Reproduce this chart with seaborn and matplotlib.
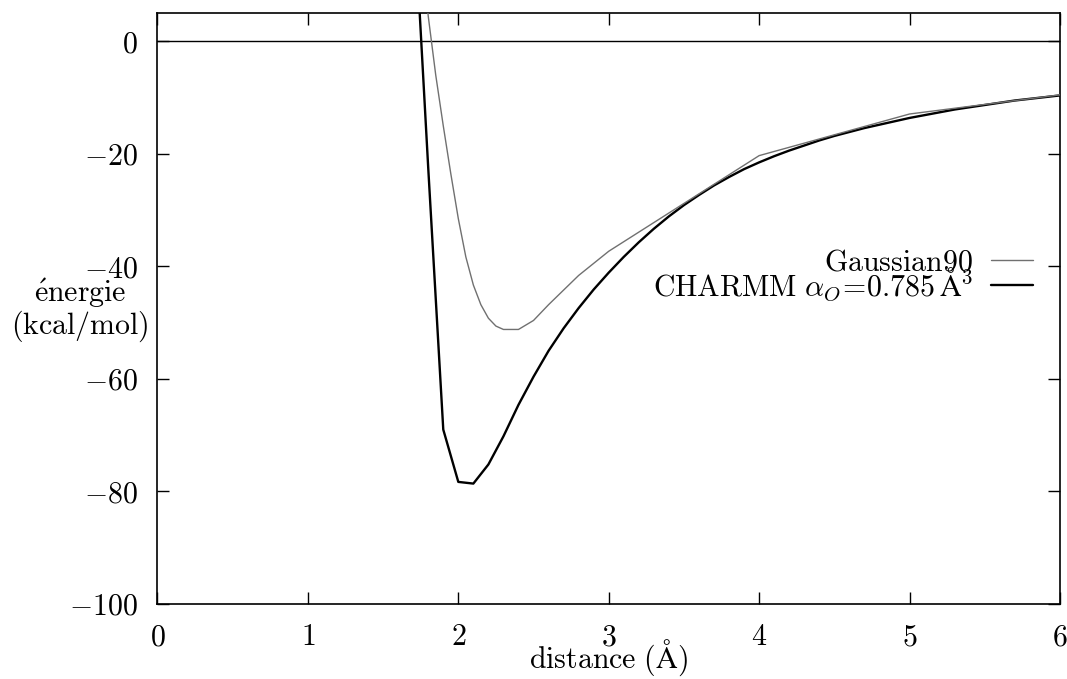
import matplotlib
matplotlib.use("Agg")
import matplotlib.pyplot as plt
import pandas as pd
import seaborn as sns

# Interaction energy curves (kcal/mol) versus distance (Angstrom)
distance_charmm = [1.7, 1.8, 1.9, 2.0, 2.1, 2.2, 2.3, 2.4, 2.5, 2.6, 2.7, 2.8, 2.9,
                   3.0, 3.1, 3.2, 3.3, 3.4, 3.5, 3.6, 3.7, 3.8, 3.9,
                   4.0, 4.1, 4.2, 4.3, 4.4, 4.5, 4.6, 4.7, 4.8, 4.9,
                   5.0, 5.1, 5.2, 5.3, 5.4, 5.5, 5.6, 5.7, 5.8, 5.9, 6.0]
energy_charmm = [26.0, -22.5, -69.0, -78.3, -78.6, -75.2, -70.2, -64.6, -59.6, -55.0, -51.0, -47.4, -44.1,
                 -41.1, -38.3, -35.7, -33.3, -31.1, -29.1, -27.3, -25.6, -24.1, -22.7,
                 -21.5, -20.4, -19.4, -18.5, -17.6, -16.8, -16.1, -15.4, -14.8, -14.2,
                 -13.6, -13.1, -12.6, -12.1, -11.7, -11.3, -10.9, -10.5, -10.2, -9.9, -9.6]

distance_gaussian = [1.7, 1.8, 1.85, 1.9, 1.95, 2.0, 2.05, 2.1, 2.15, 2.2, 2.25, 2.3, 2.4,
                     2.5, 2.6, 2.8, 3.0, 4.0, 5.0, 6.0]
energy_gaussian = [35.0, 4.5, -6.0, -15.0, -23.5, -31.5, -38.3, -43.3, -46.8, -49.2, -50.6, -51.2, -51.2,
                   -49.6, -46.8, -41.6, -37.3, -20.3, -12.9, -9.5]

x_ticks = [0, 1, 2, 3, 4, 5, 6]
x_tick_labels = ["$0$", "$1$", "$2$", "$3$", "$4$", "$5$", "$6$"]
y_ticks = [0, -20, -40, -60, -80, -100]
y_tick_labels = ["$0$", "$-20$", "$-40$", "$-60$", "$-80$", "$-100$"]

label_gaussian = r"$\mathrm{Gaussian90}$"
label_charmm = r"$\mathrm{CHARMM}\ \alpha_O\!=\!0.785\,\mathrm{Å}^3$"

sns.set_theme(style="ticks")
plt.rcParams["font.family"] = ["DejaVu Serif"]
plt.rcParams["mathtext.fontset"] = "cm"
plt.rcParams["text.color"] = "black"
plt.rcParams["axes.labelcolor"] = "black"
plt.rcParams["xtick.color"] = "black"
plt.rcParams["ytick.color"] = "black"

FS = 21.5

fig = plt.figure(figsize=(10.67, 6.79), dpi=100)
ax = fig.add_axes([0.1476, 0.1105, 0.8458, 0.8699])

df_g = pd.DataFrame({"distance": distance_gaussian, "energie": energy_gaussian})
df_c = pd.DataFrame({"distance": distance_charmm, "energie": energy_charmm})

ax.axhline(0, color="black", lw=1.0, zorder=1)
sns.lineplot(data=df_g, x="distance", y="energie", ax=ax, color="#707070",
             lw=1.0, label=label_gaussian, zorder=3)
sns.lineplot(data=df_c, x="distance", y="energie", ax=ax, color="black",
             lw=1.7, label=label_charmm, zorder=2)

ax.set_xlim(0, 6)
ax.set_ylim(-100, 5)
ax.set_xticks(x_ticks)
ax.set_xticklabels(x_tick_labels)
ax.set_yticks(y_ticks)
ax.set_yticklabels(y_tick_labels)
ax.tick_params(axis="both", direction="in", length=8.6, width=1.0,
               top=True, right=True, labelsize=FS)
ax.tick_params(axis="y", pad=14)
ax.tick_params(axis="x", pad=14)

for sp in ax.spines.values():
    sp.set_visible(True)
    sp.set_color("black")
    sp.set_linewidth(1.2)

ax.set_xlabel(r"$\mathrm{distance\ (Å)}$", fontsize=FS, va="baseline")
ax.xaxis.set_label_coords(0.5, -0.108)
ax.set_ylabel("$\\mathrm{\\acute{e}nergie}$\n$\\mathrm{(kcal/mol)}$", fontsize=FS,
              rotation=0, ha="center", va="center", multialignment="center",
              linespacing=0.95)
ax.yaxis.set_label_coords(-0.086, 0.497)

ax.legend(loc="center right", bbox_to_anchor=(0.970, 0.556), frameon=False,
          markerfirst=False, handlelength=1.4, handletextpad=0.6,
          labelspacing=-0.36, borderaxespad=0, borderpad=0, fontsize=FS)

fig.savefig("out.png", dpi=100)
